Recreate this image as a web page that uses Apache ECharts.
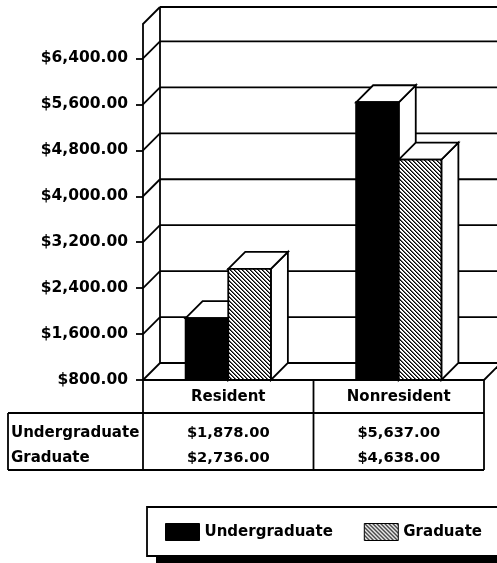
<!DOCTYPE html>
<html>
<head>
<meta charset="utf-8">
<title>Tuition: Resident vs Nonresident</title>
<script src="https://cdn.jsdelivr.net/npm/echarts@6/dist/echarts.min.js"></script>
<style>
  html, body { margin: 0; padding: 0; background: #fff; }
  #chart { width: 497px; height: 563px; }
</style>
</head>
<body>
<div id="chart"></div>
<script>
// ---- data ----
const categories = ['Resident', 'Nonresident'];
const seriesNames = ['Undergraduate', 'Graduate'];
const undergraduate = [1878, 5637];
const graduate = [2736, 4638];
const yTicks = [800, 1600, 2400, 3200, 4000, 4800, 5600, 6400];
const yMin = 800;
const yMax = 7000;
const yStep = 800;

// ---- styling ----
const FONT = 'DejaVu Sans';
const DEPTH = 17;          // 3D depth offset in px
const LINE_W = 1.8;
const TABLE_LEFT = 8;      // left edge of the row-label column

function money(v) {
  return '$' + v.toLocaleString('en-US', { minimumFractionDigits: 2, maximumFractionDigits: 2 });
}

// crisp diagonal hatch tile ("\" stripes, 4px period)
function makeHatch() {
  const s = 4;
  const c = document.createElement('canvas');
  c.width = s; c.height = s;
  const g = c.getContext('2d');
  g.fillStyle = '#fff';
  g.fillRect(0, 0, s, s);
  for (let y = 0; y < s; y++) {
    g.fillStyle = '#000';
    g.fillRect(y % s, y, 1, 1);
    g.fillStyle = '#666';
    g.fillRect((y + 1) % s, y, 1, 1);
  }
  return c;
}
const hatch = { image: makeHatch(), repeat: 'repeat' };
const fills = ['#000', hatch];

const stroke = { stroke: '#000', lineWidth: LINE_W, fill: null };

function line(x1, y1, x2, y2) {
  return { type: 'line', shape: { x1, y1, x2, y2 }, style: stroke, silent: true };
}

// walls, floor, back grid lines and the data-table frame
function renderFrame(params, api) {
  const cs = params.coordSys;
  const xl = cs.x, xr = cs.x + cs.width;
  const v = api.value(1);
  const y = api.coord([0, v])[1];
  const d = DEPTH;
  const children = [
    line(xl, y, xl + d, y - d),
    line(xl + d, y - d, xr + d + 40, y - d)
  ];
  if (v === yMin) {
    const yTop = api.coord([0, yMax])[1];
    children.push(line(xl + d, yTop - d, xl + d, y - d));   // back-left wall edge
    children.push(line(xr, y, xr + d, y - d));             // floor right edge
    children.push(line(xl, y, xr, y));                     // floor front edge / table top
    // data table grid
    const hb = y + 33, bottom = y + 90, mid = xl + cs.width / 2;
    children.push(line(TABLE_LEFT, hb, xr, hb));
    children.push(line(TABLE_LEFT, bottom, xr, bottom));
    children.push(line(TABLE_LEFT, hb, TABLE_LEFT, bottom));
    children.push(line(xl, y, xl, bottom));
    children.push(line(mid, y, mid, bottom));
    children.push(line(xr, y, xr, bottom));
    seriesNames.forEach(function (name, i) {
      children.push({
        type: 'text',
        style: {
          text: name, x: TABLE_LEFT + 3, y: y + 53 + i * 25,
          fill: '#000', font: 'bold 15px "' + FONT + '"',
          align: 'left', verticalAlign: 'middle'
        },
        silent: true
      });
    });
  }
  return { type: 'group', children };
}

// 3D bar plus its value in the data table
function makeBarRenderer(si) {
  return function (params, api) {
    const cat = api.value(0), val = api.value(1);
    const band = api.size([1, 0])[0];
    const bw = band * 0.25;
    const top = api.coord([cat, val]);
    const base = api.coord([cat, yMin]);
    const x0 = top[0] - bw + si * bw, x1 = x0 + bw;
    const yt = top[1], yb = base[1], d = DEPTH;
    const faceStyle = { stroke: '#000', lineWidth: LINE_W, fill: '#fff', lineJoin: 'miter' };
    return {
      type: 'group',
      children: [
        { type: 'polygon', shape: { points: [[x1, yt], [x1 + d, yt - d], [x1 + d, yb - d], [x1, yb]] }, style: faceStyle },
        { type: 'polygon', shape: { points: [[x0, yt], [x0 + d, yt - d], [x1 + d, yt - d], [x1, yt]] }, style: faceStyle },
        { type: 'rect', shape: { x: x0, y: yt, width: bw, height: yb - yt },
          style: { stroke: '#000', lineWidth: LINE_W, fill: fills[si] } },
        { type: 'text', silent: true,
          style: { text: money(val), x: top[0], y: yb + 53 + si * 25, fill: '#000',
                   font: 'bold 14.7px "' + FONT + '"', align: 'center', verticalAlign: 'middle' } }
      ]
    };
  };
}

const frameData = yTicks.concat([yMax]).map(v => [0, v]);
const seriesValues = [undergraduate, graduate];

const chart = echarts.init(document.getElementById('chart'), null, { renderer: 'canvas' });
chart.setOption({
  animation: false,
  backgroundColor: '#fff',
  grid: { left: 143, right: 13, top: 24, bottom: 183 },
  xAxis: {
    type: 'category',
    data: categories,
    axisLine: { show: false },
    axisTick: { show: false },
    axisLabel: {
      margin: 17, verticalAlign: 'middle', color: '#000',
      fontFamily: FONT, fontWeight: 'bold', fontSize: 15
    }
  },
  yAxis: {
    type: 'value',
    min: yMin, max: yMax, interval: yStep,
    axisLine: { show: true, lineStyle: { color: '#000', width: LINE_W } },
    axisTick: { show: true, length: 7, customValues: yTicks, lineStyle: { color: '#000', width: LINE_W } },
    axisLabel: {
      customValues: yTicks, margin: 15, color: '#000',
      fontFamily: FONT, fontWeight: 'bold', fontSize: 15.5,
      formatter: v => money(v)
    },
    splitLine: { show: false }
  },
  // legend frame with a solid drop shadow
  graphic: [
    { type: 'rect', z: 0, silent: true,
      shape: { x: 156, y: 514, width: 380, height: 49 },
      style: { fill: '#000' } },
    { type: 'rect', z: 1, silent: true,
      shape: { x: 147, y: 507, width: 380, height: 49 },
      style: { fill: '#fff', stroke: '#000', lineWidth: LINE_W } }
  ],
  legend: {
    left: 165, top: 523,
    width: 340,
    orient: 'horizontal',
    padding: 0,
    itemGap: 31, itemWidth: 34, itemHeight: 17,
    icon: 'rect',
    z: 5,
    textStyle: { color: '#000', fontFamily: FONT, fontWeight: 'bold', fontSize: 15 },
    data: seriesNames.map((n, i) => ({
      name: n,
      itemStyle: { color: fills[i], borderColor: '#000', borderWidth: 1 }
    }))
  },
  series: [
    {
      type: 'custom',
      coordinateSystem: 'cartesian2d',
      renderItem: renderFrame,
      encode: { x: 0, y: 1 },
      data: frameData,
      silent: true,
      z: 1
    }
  ].concat(seriesNames.map((name, si) => ({
    type: 'custom',
    name: name,
    coordinateSystem: 'cartesian2d',
    renderItem: makeBarRenderer(si),
    encode: { x: 0, y: 1 },
    itemStyle: { color: fills[si] },
    data: seriesValues[si].map((v, i) => [i, v]),
    z: 2 + si
  })))
});
</script>
</body>
</html>
